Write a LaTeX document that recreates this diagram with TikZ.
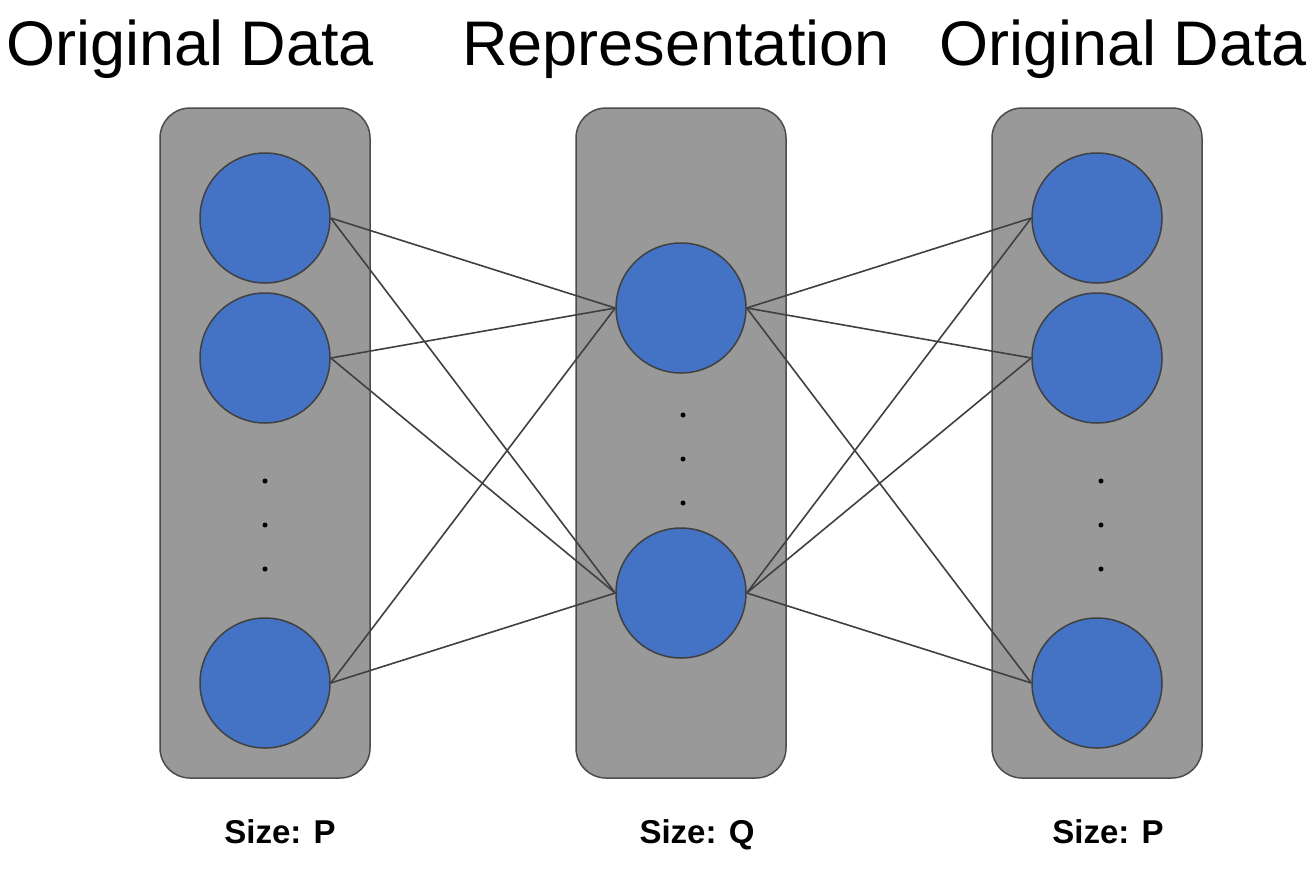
\documentclass[tikz,border=0pt]{standalone}
\usepackage{fontspec}
\setmainfont{Liberation Sans}
\begin{document}
\begin{tikzpicture}[x=1pt,y=-1pt,
  col/.style={draw=black!70,fill=black!40,line width=1.5pt,rounded corners=30pt,minimum width=210pt,minimum height=670pt,inner sep=0pt},
  neuron/.style={circle,draw=black!75,fill={rgb,255:red,68;green,114;blue,196},line width=1.5pt,minimum size=130pt,inner sep=0pt},
  dotn/.style={circle,fill=black,minimum size=5pt,inner sep=0pt},
  link/.style={draw=black!75,line width=1.6pt},
  title/.style={font=\fontsize{63}{66}\selectfont,inner sep=0pt,anchor=base},
  size/.style={font=\fontsize{33}{36}\selectfont\bfseries,inner sep=0pt,anchor=base}]
\useasboundingbox (0,0) rectangle (1312,870);
\node[col] (c1) at (265,443) {};
\node[col] (c2) at (681,443) {};
\node[col] (c3) at (1097,443) {};
\node[neuron] (a1) at (265,218) {};
\node[neuron] (a2) at (265,358) {};
\node[neuron] (a3) at (265,683) {};
\node[neuron] (b1) at (681,308) {};
\node[neuron] (b2) at (681,593) {};
\node[neuron] (d1) at (1097,218) {};
\node[neuron] (d2) at (1097,358) {};
\node[neuron] (d3) at (1097,683) {};
\node[dotn] (p1) at (265,481) {};
\node[dotn] (p2) at (265,525) {};
\node[dotn] (p3) at (265,569) {};
\node[dotn] (q1) at (683,415) {};
\node[dotn] (q2) at (683,459) {};
\node[dotn] (q3) at (683,503) {};
\node[dotn] (r1) at (1101,481) {};
\node[dotn] (r2) at (1101,525) {};
\node[dotn] (r3) at (1101,569) {};
\foreach \a in {a1,a2,a3}{\foreach \b in {b1,b2}{\draw[link] (\a.east) -- (\b.west);}}
\foreach \b in {b1,b2}{\foreach \d in {d1,d2,d3}{\draw[link] (\b.east) -- (\d.west);}}
\node[title] (t1) at (190,65) {Original Data};
\node[title] (t2) at (676,65) {Representation};
\node[title] (t3) at (1123,65) {Original Data};
\node[size] (s1) at (280,843) {Size: P};
\node[size] (s2) at (697,843) {Size: Q};
\node[size] (s3) at (1108,843) {Size: P};
\end{tikzpicture}
\end{document}
